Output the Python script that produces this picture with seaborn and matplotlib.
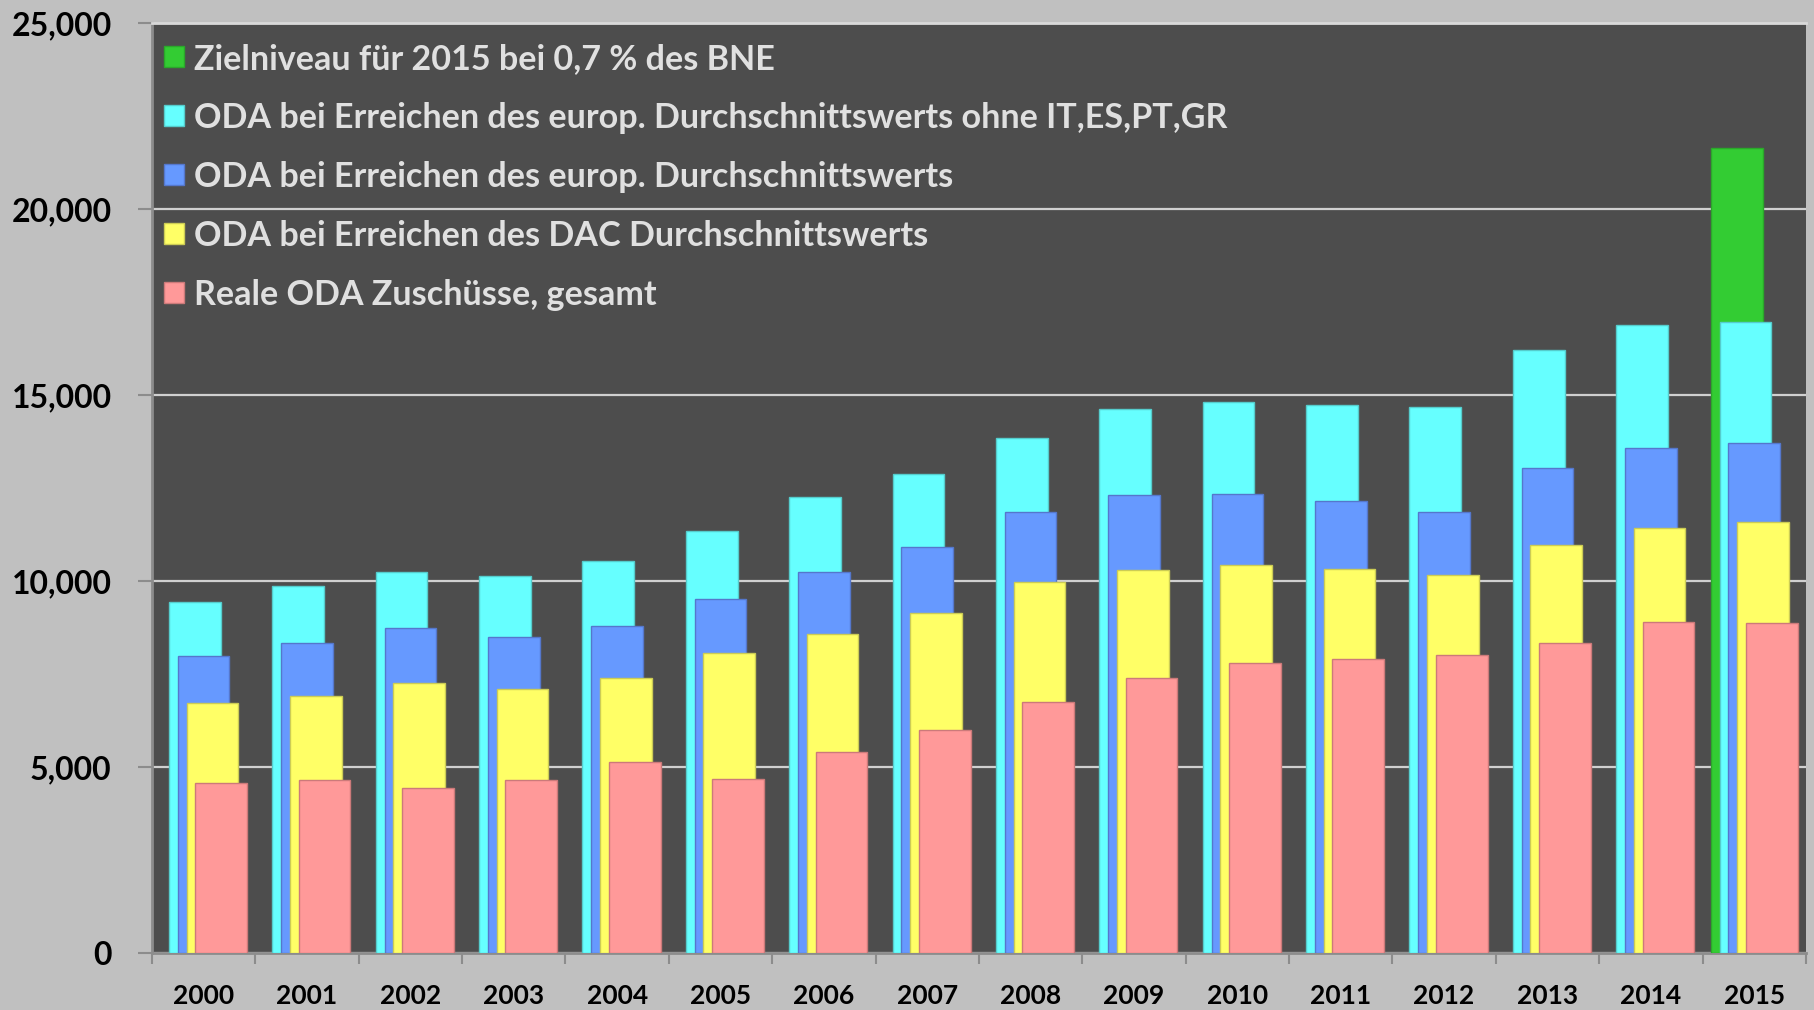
import numpy as np
import pandas as pd
import matplotlib.pyplot as plt
import matplotlib.ticker as mticker
import seaborn as sns

# Werte (Mio. Euro)
years = list(range(2000, 2016))
reale_oda = [4580, 4660, 4440, 4640, 5130, 4670, 5410, 6000, 6750, 7400, 7800, 7900, 8020, 8330, 8900, 8870]
dac_schnitt = [6710, 6920, 7260, 7110, 7400, 8060, 8580, 9140, 9980, 10290, 10420, 10330, 10170, 10980, 11430, 11600]
europ_schnitt = [7980, 8330, 8750, 8500, 8800, 9520, 10230, 10920, 11850, 12320, 12350, 12160, 11850, 13030, 13570, 13710]
europ_ohne = [9440, 9860, 10240, 10130, 10540, 11350, 12250, 12880, 13840, 14620, 14800, 14740, 14680, 16200, 16870, 16950]
ziel_year = [2015]
ziel_wert = [21640]

labels = [
    "Zielniveau für 2015 bei 0,7 % des BNE",
    "ODA bei Erreichen des europ. Durchschnittswerts ohne IT,ES,PT,GR",
    "ODA bei Erreichen des europ. Durchschnittswerts",
    "ODA bei Erreichen des DAC Durchschnittswerts",
    "Reale ODA Zuschüsse, gesamt",
]
colors = ["#33cc33", "#66ffff", "#6699ff", "#ffff66", "#ff9999"]
edges = ["#2aa82a", "#55cccc", "#5577cc", "#cccc55", "#cc7a7a"]

sns.set_style("white")
plt.rcParams["font.family"] = ["Lato", "DejaVu Sans"]
plt.rcParams["font.weight"] = "bold"

fig = plt.figure(figsize=(18.15, 10.1), dpi=100, facecolor="#c0c0c0")
ax = fig.add_axes([0.0837, 0.0564, 0.9113, 0.9208])
ax.set_facecolor("#4d4d4d")

series = [
    (ziel_year, ziel_wert, -0.17),
    (years, europ_ohne, -0.085),
    (years, europ_schnitt, 0.0),
    (years, dac_schnitt, 0.085),
    (years, reale_oda, 0.17),
]
for (xs, vals, off), lab, col, ec in zip(series, labels, colors, edges):
    sns.barplot(x=np.array(xs) + off, y=vals, native_scale=True, width=0.5,
                color=col, edgecolor=ec, linewidth=1, saturation=1,
                errorbar=None, label=lab, ax=ax, zorder=3)

ax.set_xlim(1999.5, 2015.5)
ax.set_ylim(0, 25000)
ax.set_xticks(years)
ax.set_xticklabels([str(y) for y in years])
ax.set_xticks(np.arange(1999.5, 2016, 1), minor=True)
ax.tick_params(axis="x", which="major", length=0, pad=22, labelsize=19, labelcolor="black")
ax.tick_params(axis="x", which="minor", length=8, width=1.5, color="#8c8c8c", direction="out", bottom=True)
ax.set_yticks(range(0, 25001, 5000))
ax.yaxis.set_major_formatter(mticker.FuncFormatter(lambda v, p: f"{int(v):,}"))
ax.tick_params(axis="y", length=10, width=1.5, color="#8c8c8c", direction="out", left=True,
               pad=19, labelsize=23, labelcolor="black")
ax.set_xlabel("")
ax.set_ylabel("")

ax.grid(axis="y", color="#d0d0d0", linewidth=1.6, zorder=1)
ax.grid(axis="x", visible=False)
ax.set_axisbelow(True)
for side in ["left", "bottom"]:
    ax.spines[side].set_color("#8c8c8c")
    ax.spines[side].set_linewidth(2)
ax.spines["top"].set_color("#d9d9d9")
ax.spines["top"].set_linewidth(2)
ax.spines["right"].set_visible(False)

leg = ax.legend(loc="upper left", bbox_to_anchor=(0.0073, 0.979), frameon=False,
                fontsize=24.6, handlelength=0.58, handleheight=0.58, handletextpad=0.3,
                labelspacing=0.79, borderpad=0, borderaxespad=0)
leg.set_zorder(10)
for t in leg.get_texts():
    t.set_color("#e0e0e0")
    t.set_fontweight("bold")

fig.savefig("out.png", dpi=100, facecolor=fig.get_facecolor())
